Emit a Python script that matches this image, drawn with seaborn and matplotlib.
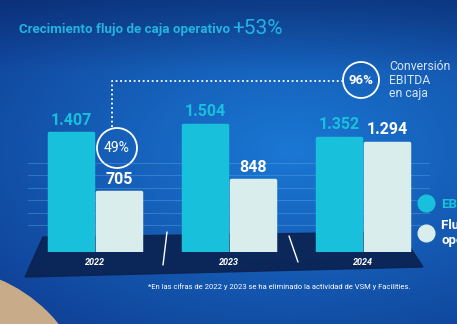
import numpy as np
import pandas as pd
import matplotlib
matplotlib.use("Agg")
import matplotlib.pyplot as plt
import seaborn as sns
from matplotlib.patches import Polygon, Circle
from matplotlib.lines import Line2D

years = ["2022", "2023", "2024"]
ebitda = [1407, 1504, 1352]
flujo = [705, 848, 1294]
series_names = ["EBITDA", "Flujo de caja\noperativo"]
title_text = "Crecimiento flujo de caja operativo"
title_growth = "+53%"
conv_2022 = "49%"
conv_2024 = "96%"
conv_label = "Conversión\nEBITDA\nen caja"
footnote = "*En las cifras de 2022 y 2023 se ha eliminado la actividad de VSM y Facilities."

C_EBITDA = "#19c0dc"
C_FLUJO = "#d9eeec"

df = pd.DataFrame({
    "year": years * 2,
    "value": ebitda + flujo,
    "serie": [series_names[0]] * 3 + [series_names[1]] * 3,
})

sns.set_theme(style="white")
plt.rcParams["font.family"] = ["Roboto", "DejaVu Sans"]

W, H = 457, 324
fig = plt.figure(figsize=(W / 100, H / 100), dpi=100)


def fx(x):
    return x / W


def fy(y):
    return 1 - y / H


# background gradient
bg = fig.add_axes([0, 0, 1, 1], zorder=-10)
yy, xx = np.mgrid[0:H, 0:W]
d = np.sqrt(((xx - 290) / 380) ** 2 + ((yy - 150) / 220) ** 2)
d = np.clip(d, 0, 1)
c_in = np.array([0x1a, 0x78, 0xd4]) / 255
c_out = np.array([0x10, 0x42, 0x98]) / 255
img = c_in[None, None, :] * (1 - d[..., None]) + c_out[None, None, :] * d[..., None]
top_dark = np.clip(1 - yy / 70, 0, 1)[..., None] * 0.45
img = img * (1 - top_dark) + np.array([0x06, 0x1c, 0x55]) / 255 * top_dark
bg.imshow(img, extent=[0, W, H, 0], aspect="auto")
bg.set_xlim(0, W)
bg.set_ylim(H, 0)
bg.axis("off")
# beige corner
bg.add_patch(Circle((-60, 420), 152, color="#c8ab88", zorder=2))
# platform
bg.add_patch(Polygon([(43, 237), (400, 232), (423, 267), (25, 277)],
                     closed=True, color="#0b2250", alpha=0.9, zorder=3))
# separators
bg.plot([167, 163], [232, 265], color="white", lw=1, zorder=4)
bg.plot([289, 298], [236, 262], color="white", lw=1, zorder=4)

ax = fig.add_axes([fx(28), fy(252), fx(430) - fx(28), (252 - 83) / H])
ax.patch.set_alpha(0)
sns.barplot(data=df, x="year", y="value", hue="serie",
            palette=[C_EBITDA, C_FLUJO], saturation=1, width=0.72, gap=0.08,
            ax=ax, legend=False, zorder=3)
for p in ax.patches:
    p.set_edgecolor(p.get_facecolor())
    p.set_linewidth(2.5)
    p.set_joinstyle("round")

ax.set_ylim(0, 2000)
ax.set_xlim(-0.5, 2.5)
ax.set_yticks([320, 460, 610, 760, 910, 1050])
ax.set_yticklabels([])
ax.yaxis.grid(True, color="#5aa8e8", alpha=0.4, lw=0.8, zorder=0)
ax.tick_params(axis="y", length=0)
ax.tick_params(axis="x", length=0, pad=4)
ax.set_xticks(range(len(years)))
ax.set_xticklabels(years, color="white", fontsize=6.5, fontweight="bold", style="italic")
ax.set_xlabel("")
ax.set_ylabel("")
for s in ax.spines.values():
    s.set_visible(False)


def fmt(v):
    return f"{v:,}".replace(",", ".")


label_colors = [C_EBITDA, "white"]
for cont, col in zip(ax.containers, label_colors):
    ax.bar_label(cont, labels=[fmt(int(v)) for v in cont.datavalues],
                 padding=4, color=col, fontsize=11.5, fontweight="bold")

# title
fig.text(fx(19), fy(30), title_text, color="#23b4e2", fontsize=9.6,
         fontweight="bold", va="center", ha="left")
fig.text(fx(232), fy(28), title_growth, color="#23b4e2", fontsize=15,
         va="center", ha="left")

# dotted connector
bg.plot([112, 112, 343], [127, 81, 81], color="white", lw=1.3,
        linestyle=(0, (1, 1.5)), zorder=5)
# circles
bg.add_patch(Circle((361, 80), 18, fill=False, ec="white", lw=1.3, zorder=5))
bg.text(361, 80, conv_2024, color="white", fontsize=9.5, fontweight="bold",
        ha="center", va="center", zorder=6)
bg.add_patch(Circle((117, 148), 20, fill=False, ec="white", lw=1.3, zorder=5))
bg.text(117, 148, conv_2022, color="white", fontsize=10,
        ha="center", va="center", zorder=6)
bg.text(389, 80, conv_label, color="#d6e6f6", fontsize=8.8,
        ha="left", va="center", linespacing=1.05, zorder=6)

# legend (cut at right edge as in the reference)
handles = [Line2D([], [], marker="o", ls="", markersize=12, color=c)
           for c in [C_EBITDA, C_FLUJO]]
leg = fig.legend(handles, series_names, loc="upper left",
                 bbox_to_anchor=(fx(401), fy(186)), frameon=False,
                 handletextpad=0.15, labelspacing=0.6,
                 prop={"weight": "bold", "size": 9.5})
for t, c in zip(leg.get_texts(), [C_EBITDA, "white"]):
    t.set_color(c)

# footnote
fig.text(fx(148), fy(287), footnote, color="white", fontsize=5.5,
         ha="left", va="center")

fig.savefig("out.png", dpi=100)
